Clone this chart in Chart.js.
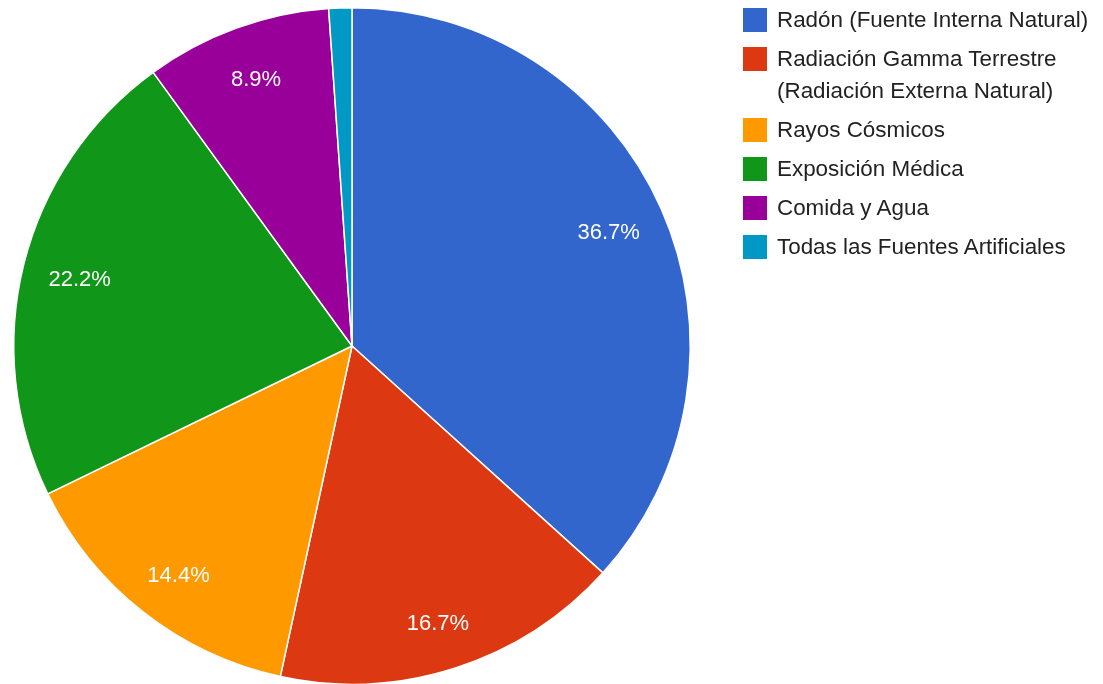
<!DOCTYPE html>
<html>
<head>
<meta charset="utf-8">
<script src="https://cdn.jsdelivr.net/npm/chart.js@4/dist/chart.umd.min.js"></script>
<style>
  html, body { margin: 0; padding: 0; background: #fff; overflow: hidden; }
  #wrap { position: absolute; left: 0; top: 0; width: 1103px; height: 692px; }
  #legend { position: absolute; left: 743px; top: 4px; margin: 0; padding: 0; list-style: none;
            font-family: "Liberation Sans", Arial, sans-serif; font-size: 22.4px; color: #222; }
  #legend li { position: relative; padding-left: 34px; line-height: 32px; margin-bottom: 7px; white-space: pre-line; }
  #legend li span.box { position: absolute; left: 0; top: 4px; width: 24px; height: 24px; }
</style>
</head>
<body>
<div id="wrap"><canvas id="pie"></canvas></div>
<ul id="legend"></ul>
<script>
// datos
const categories = [
  'Radón (Fuente Interna Natural)',
  'Radiación Gamma Terrestre\n(Radiación Externa Natural)',
  'Rayos Cósmicos',
  'Exposición Médica',
  'Comida y Agua',
  'Todas las Fuentes Artificiales'
];
const values = [36.7, 16.7, 14.4, 22.2, 8.9, 1.1];
const colors = ['#3366cc', '#dc3912', '#ff9900', '#109618', '#990099', '#0099c6'];

const $ = (id) => document.getElementById(id);

// legenda html (por el salto de línea)
function renderLegend() {
  const ul = $('legend');
  categories.forEach((c, i) => {
    const li = document.createElement('li');
    const box = document.createElement('span');
    box.className = 'box';
    box.style.background = colors[i];
    li.appendChild(box);
    li.appendChild(document.createTextNode(c));
    ul.appendChild(li);
  });
}

// etiquetas de porcentaje dentro de los sectores
const sliceLabels = {
  id: 'sliceLabels',
  afterDatasetsDraw(chart) {
    const ctx = chart.ctx;
    const meta = chart.getDatasetMeta(0);
    const total = values.reduce((a, b) => a + b, 0);
    ctx.save();
    ctx.font = '22px "Liberation Sans", Arial, sans-serif';
    ctx.fillStyle = '#fff';
    ctx.textAlign = 'center';
    ctx.textBaseline = 'middle';
    meta.data.forEach((arc, i) => {
      const pct = values[i] / total * 100;
      if (pct < 5) return;
      const p = arc.getProps(['x', 'y', 'startAngle', 'endAngle', 'outerRadius'], true);
      const mid = (p.startAngle + p.endAngle) / 2;
      const x = p.x + Math.cos(mid) * p.outerRadius * 0.83;
      const y = p.y + Math.sin(mid) * p.outerRadius * 0.85 + 4;
      ctx.fillText(values[i].toFixed(1) + '%', x, y);
    });
    ctx.restore();
  }
};

renderLegend();

new Chart($('pie').getContext('2d'), {
  type: 'pie',
  data: {
    labels: categories,
    datasets: [{
      data: values,
      backgroundColor: colors,
      borderColor: '#fff',
      borderWidth: 1.5
    }]
  },
  options: {
    responsive: true,
    maintainAspectRatio: false,
    animation: false,
    layout: { padding: { left: 13, right: 412, top: 7, bottom: 7 } },
    plugins: {
      legend: { display: false },
      tooltip: { enabled: false }
    }
  },
  plugins: [sliceLabels]
});
</script>
</body>
</html>
